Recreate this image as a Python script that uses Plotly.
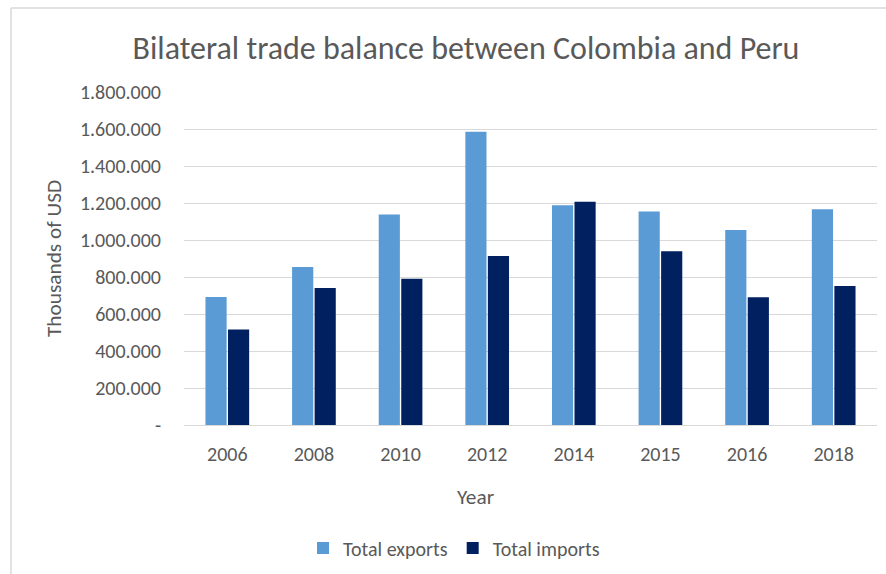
import plotly.graph_objects as go

years = ["2006", "2008", "2010", "2012", "2014", "2015", "2016", "2018"]
exports = [692000, 854000, 1138000, 1585000, 1188000, 1154000, 1054000, 1166000]
imports = [516000, 740000, 790000, 914000, 1207000, 939000, 690000, 752000]
tick_vals = [0, 200000, 400000, 600000, 800000, 1000000, 1200000, 1400000, 1600000, 1800000]
tick_text = ["-", "200.000", "400.000", "600.000", "800.000", "1.000.000",
             "1.200.000", "1.400.000", "1.600.000", "1.800.000"]

FONT = "Carlito, Open Sans"
GRAY = "#595959"

fig = go.Figure()
fig.add_trace(go.Bar(name="Total exports", x=years, y=exports, marker_color="#5b9bd5",
                     marker_line_width=0))
fig.add_trace(go.Bar(name="Total imports", x=years, y=imports, marker_color="#002060",
                     marker_line_width=0))

fig.update_layout(
    width=886, height=574,
    margin=dict(l=184, r=9, t=92, b=149),
    paper_bgcolor="white", plot_bgcolor="white",
    barmode="group", bargap=0.48, bargroupgap=0.06,
    font=dict(family=FONT, color=GRAY, size=20),
    title=dict(text="Bilateral trade balance between Colombia and Peru",
               x=466/886, xanchor="center", y=1-48/574, yanchor="middle",
               font=dict(size=32, color=GRAY, family=FONT)),
    showlegend=True,
    legend=dict(orientation="h", x=454/886, xanchor="center", xref="container",
                y=1-548/574, yref="container", yanchor="middle",
                font=dict(size=20, color=GRAY), itemwidth=30, traceorder="normal"),
    xaxis=dict(showgrid=False, showline=False, ticks="", ticklabelstandoff=15,
               tickfont=dict(size=20, color=GRAY)),
    yaxis=dict(range=[0, 1800000], tickvals=tick_vals, ticktext=tick_text,
               showgrid=True, gridcolor="#d9d9d9", gridwidth=1,
               zeroline=True, zerolinecolor="#d9d9d9", zerolinewidth=1,
               showline=False, ticks="", ticklabelstandoff=22,
               tickfont=dict(size=20, color=GRAY),
               title=dict(text="Thousands of USD", font=dict(size=21.3, color=GRAY), standoff=12)),
)

fig.add_annotation(text="Year", xref="paper", yref="paper",
                   x=(476-184)/(877-184), y=-(497-425)/(425-92),
                   xanchor="center", yanchor="middle", showarrow=False,
                   font=dict(size=21.3, color=GRAY, family=FONT))

# chart-frame edges (top and left only visible in the reference)
px = lambda x: (x - 184) / (877 - 184)
py = lambda y: (425 - y) / (425 - 92)
fig.add_shape(type="line", xref="paper", yref="paper",
              x0=px(11), x1=px(886), y0=py(8), y1=py(8),
              line=dict(color="#d9d9d9", width=1.5), layer="below")
fig.add_shape(type="line", xref="paper", yref="paper",
              x0=px(11), x1=px(11), y0=py(8), y1=py(574),
              line=dict(color="#d9d9d9", width=1.5), layer="below")

fig.write_html("out.html", config={"displayModeBar": False},
               post_script="document.body.style.margin='0';")
